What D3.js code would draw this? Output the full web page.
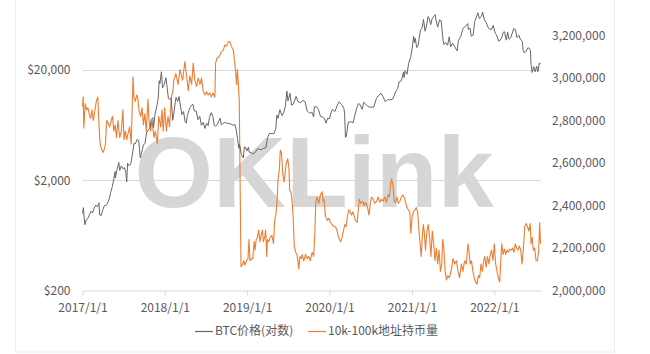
<!DOCTYPE html>
<html>
<head>
<meta charset="utf-8">
<script src="https://cdn.jsdelivr.net/npm/d3@7"></script>
<style>
  body { margin: 0; background: #fff; }
  svg { display: block; }
</style>
</head>
<body>
<div id="chart"></div>
<script>
// BTC price (USD, left log axis)
const btcPrice = [
  ["2017-01-01", 998], ["2017-01-05", 1130], ["2017-01-11", 790], ["2017-01-18", 880], ["2017-01-25", 900],
  ["2017-02-01", 980], ["2017-02-08", 1050], ["2017-02-15", 1010], ["2017-02-22", 1120], ["2017-03-01", 1190],
  ["2017-03-08", 1150], ["2017-03-15", 1250], ["2017-03-18", 970], ["2017-03-25", 960], ["2017-04-01", 1080],
  ["2017-04-08", 1180], ["2017-04-15", 1180], ["2017-04-22", 1240], ["2017-04-29", 1340], ["2017-05-06", 1550],
  ["2017-05-13", 1750], ["2017-05-20", 2050], ["2017-05-25", 2400], ["2017-05-27", 2100], ["2017-06-03", 2500],
  ["2017-06-11", 2900], ["2017-06-15", 2450], ["2017-06-22", 2700], ["2017-06-29", 2550], ["2017-07-06", 2600],
  ["2017-07-12", 2350], ["2017-07-16", 1930], ["2017-07-20", 2850], ["2017-07-27", 2700], ["2017-08-03", 2800],
  ["2017-08-10", 3400], ["2017-08-17", 4300], ["2017-08-24", 4300], ["2017-08-31", 4700], ["2017-09-07", 4600],
  ["2017-09-14", 3200], ["2017-09-21", 3600], ["2017-09-28", 4200], ["2017-10-05", 4300], ["2017-10-12", 5400],
  ["2017-10-19", 5700], ["2017-10-26", 5900], ["2017-11-02", 7100], ["2017-11-09", 7400], ["2017-11-12", 6000],
  ["2017-11-19", 8000], ["2017-11-26", 9300], ["2017-12-03", 11200], ["2017-12-07", 16000], ["2017-12-10", 15000],
  ["2017-12-17", 19300], ["2017-12-22", 13800], ["2017-12-28", 14500], ["2018-01-06", 17000], ["2018-01-12", 13500],
  ["2018-01-17", 11000], ["2018-01-23", 10800], ["2018-01-29", 11200], ["2018-02-05", 7000], ["2018-02-10", 8100],
  ["2018-02-16", 10100], ["2018-02-20", 11300], ["2018-02-27", 10400], ["2018-03-05", 11500], ["2018-03-12", 9200],
  ["2018-03-18", 7900], ["2018-03-25", 8400], ["2018-04-01", 6800], ["2018-04-06", 6600], ["2018-04-12", 7900],
  ["2018-04-20", 8800], ["2018-04-25", 9300], ["2018-05-05", 9800], ["2018-05-12", 8500], ["2018-05-20", 8500],
  ["2018-05-28", 7100], ["2018-06-05", 7600], ["2018-06-12", 6300], ["2018-06-20", 6700], ["2018-06-28", 5900],
  ["2018-07-05", 6600], ["2018-07-12", 6250], ["2018-07-18", 7400], ["2018-07-25", 8200], ["2018-08-02", 7600],
  ["2018-08-08", 6300], ["2018-08-14", 6200], ["2018-08-22", 6400], ["2018-08-30", 7000], ["2018-09-04", 7300],
  ["2018-09-08", 6400], ["2018-09-15", 6500], ["2018-09-22", 6700], ["2018-10-01", 6600], ["2018-10-10", 6550],
  ["2018-10-20", 6500], ["2018-10-30", 6300], ["2018-11-08", 6400], ["2018-11-14", 5700], ["2018-11-19", 4800],
  ["2018-11-25", 3900], ["2018-11-28", 4250], ["2018-12-07", 3400], ["2018-12-15", 3200], ["2018-12-20", 4000],
  ["2018-12-24", 4000], ["2018-12-31", 3700], ["2019-01-07", 4000], ["2019-01-10", 3600], ["2019-01-20", 3550],
  ["2019-01-28", 3450], ["2019-02-08", 3650], ["2019-02-18", 3900], ["2019-02-24", 3800], ["2019-03-05", 3800],
  ["2019-03-15", 3900], ["2019-03-25", 3950], ["2019-04-02", 4900], ["2019-04-10", 5300], ["2019-04-20", 5300],
  ["2019-04-30", 5300], ["2019-05-08", 5900], ["2019-05-13", 7800], ["2019-05-18", 7300], ["2019-05-26", 8700],
  ["2019-06-05", 7700], ["2019-06-12", 8200], ["2019-06-20", 9500], ["2019-06-26", 12900], ["2019-07-01", 10500],
  ["2019-07-10", 12300], ["2019-07-17", 9600], ["2019-07-25", 9800], ["2019-08-06", 11500], ["2019-08-15", 10300],
  ["2019-08-25", 10100], ["2019-09-05", 10600], ["2019-09-15", 10300], ["2019-09-24", 8500], ["2019-10-05", 8100],
  ["2019-10-15", 8300], ["2019-10-23", 7500], ["2019-10-26", 9250], ["2019-11-05", 9300], ["2019-11-14", 8700],
  ["2019-11-22", 7600], ["2019-11-30", 7500], ["2019-12-10", 7300], ["2019-12-17", 6600], ["2019-12-24", 7300],
  ["2020-01-01", 7200], ["2020-01-07", 8100], ["2020-01-14", 8800], ["2020-01-25", 8400], ["2020-02-05", 9600],
  ["2020-02-13", 10300], ["2020-02-24", 9700], ["2020-03-05", 9000], ["2020-03-08", 8100], ["2020-03-12", 4900],
  ["2020-03-16", 5000], ["2020-03-24", 6700], ["2020-04-05", 6800], ["2020-04-15", 6650], ["2020-04-29", 8800],
  ["2020-05-08", 9900], ["2020-05-14", 9800], ["2020-05-25", 8800], ["2020-06-01", 10200], ["2020-06-10", 9800],
  ["2020-06-20", 9300], ["2020-07-01", 9200], ["2020-07-15", 9200], ["2020-07-27", 11000], ["2020-08-05", 11700],
  ["2020-08-17", 12300], ["2020-08-25", 11500], ["2020-09-05", 10300], ["2020-09-15", 10800], ["2020-09-25", 10700],
  ["2020-10-08", 10900], ["2020-10-21", 12800], ["2020-10-30", 13600], ["2020-11-05", 15600], ["2020-11-15", 16000],
  ["2020-11-24", 19100], ["2020-11-27", 17100], ["2020-12-01", 19700], ["2020-12-10", 18300], ["2020-12-17", 23000],
  ["2020-12-27", 26500], ["2021-01-03", 33000], ["2021-01-08", 40500], ["2021-01-11", 35500], ["2021-01-15", 39000],
  ["2021-01-22", 32000], ["2021-01-28", 33500], ["2021-02-08", 46400], ["2021-02-15", 48000], ["2021-02-21", 57500],
  ["2021-02-28", 45000], ["2021-03-07", 51000], ["2021-03-13", 61000], ["2021-03-19", 58000], ["2021-03-25", 51500],
  ["2021-04-01", 59000], ["2021-04-14", 63500], ["2021-04-18", 56000], ["2021-04-25", 49000], ["2021-05-03", 57000],
  ["2021-05-10", 56000], ["2021-05-13", 49500], ["2021-05-19", 37000], ["2021-05-23", 34000], ["2021-05-30", 35600],
  ["2021-06-08", 33500], ["2021-06-15", 40000], ["2021-06-22", 32500], ["2021-06-30", 35000], ["2021-07-08", 32900],
  ["2021-07-20", 29800], ["2021-07-26", 37200], ["2021-08-05", 40000], ["2021-08-14", 47000], ["2021-08-23", 49500],
  ["2021-09-06", 52700], ["2021-09-07", 46800], ["2021-09-15", 48000], ["2021-09-21", 40500], ["2021-09-29", 41500],
  ["2021-10-06", 55000], ["2021-10-15", 61500], ["2021-10-20", 66000], ["2021-10-27", 58500], ["2021-11-05", 61500],
  ["2021-11-10", 67000], ["2021-11-18", 57000], ["2021-11-26", 54000], ["2021-12-04", 49000], ["2021-12-10", 47000],
  ["2021-12-20", 46700], ["2021-12-27", 50700], ["2022-01-05", 43000], ["2022-01-10", 41800], ["2022-01-21", 36500],
  ["2022-01-24", 36700], ["2022-02-01", 38500], ["2022-02-10", 44000], ["2022-02-15", 44500], ["2022-02-23", 37300],
  ["2022-03-01", 44300], ["2022-03-07", 38000], ["2022-03-15", 39300], ["2022-03-28", 47400], ["2022-04-05", 46500],
  ["2022-04-11", 39500], ["2022-04-20", 41300], ["2022-04-26", 38100], ["2022-05-05", 36500], ["2022-05-09", 30100],
  ["2022-05-12", 28900], ["2022-05-20", 29200], ["2022-05-30", 31800], ["2022-06-06", 31400], ["2022-06-10", 30100],
  ["2022-06-13", 22500], ["2022-06-18", 19000], ["2022-06-25", 21500], ["2022-07-01", 19300], ["2022-07-08", 21600],
  ["2022-07-13", 19300], ["2022-07-20", 23200], ["2022-07-25", 22600]
];

// BTC held by 10k-100k addresses (right axis)
const holdings = [
  ["2017-01-01", 2865000], ["2017-01-04", 2912000], ["2017-01-07", 2765000], ["2017-01-13", 2880000], ["2017-01-19", 2850000],
  ["2017-01-25", 2860000], ["2017-01-31", 2830000], ["2017-02-06", 2810000], ["2017-02-12", 2850000], ["2017-02-18", 2800000],
  ["2017-02-24", 2840000], ["2017-03-03", 2890000], ["2017-03-10", 2910000], ["2017-03-13", 2830000], ["2017-03-18", 2720000],
  ["2017-03-22", 2680000], ["2017-03-28", 2660000], ["2017-04-03", 2650000], ["2017-04-09", 2670000], ["2017-04-13", 2690000],
  ["2017-04-18", 2800000], ["2017-04-24", 2790000], ["2017-05-01", 2770000], ["2017-05-09", 2800000], ["2017-05-14", 2820000],
  ["2017-05-20", 2750000], ["2017-05-26", 2780000], ["2017-06-01", 2720000], ["2017-06-07", 2800000], ["2017-06-15", 2720000],
  ["2017-06-22", 2750000], ["2017-06-29", 2850000], ["2017-07-04", 2710000], ["2017-07-10", 2750000], ["2017-07-16", 2710000],
  ["2017-07-22", 2740000], ["2017-07-29", 2770000], ["2017-08-05", 2690000], ["2017-08-13", 3006000], ["2017-08-17", 2910000],
  ["2017-08-23", 2890000], ["2017-08-29", 2920000], ["2017-09-04", 2900000], ["2017-09-08", 2850000], ["2017-09-16", 2820000],
  ["2017-09-22", 2860000], ["2017-09-28", 2780000], ["2017-10-04", 2830000], ["2017-10-11", 2750000], ["2017-10-18", 2900000],
  ["2017-10-23", 2800000], ["2017-10-30", 2750000], ["2017-11-05", 2800000], ["2017-11-14", 2720000], ["2017-11-20", 2750000],
  ["2017-11-29", 2690000], ["2017-12-05", 2820000], ["2017-12-14", 2770000], ["2017-12-19", 2850000], ["2017-12-25", 2750000],
  ["2017-12-31", 2860000], ["2018-01-08", 2750000], ["2018-01-15", 2820000], ["2018-01-22", 2770000], ["2018-01-30", 2910000],
  ["2018-02-06", 2940000], ["2018-02-10", 2990000], ["2018-02-19", 3020000], ["2018-03-01", 2970000], ["2018-03-09", 3040000],
  ["2018-03-21", 2990000], ["2018-03-31", 3077000], ["2018-04-08", 3006000], ["2018-04-15", 2940000], ["2018-04-22", 3010000],
  ["2018-04-30", 2970000], ["2018-05-07", 3070000], ["2018-05-14", 2990000], ["2018-05-22", 2960000], ["2018-05-29", 3000000],
  ["2018-06-06", 2970000], ["2018-06-13", 3000000], ["2018-06-20", 2940000], ["2018-06-28", 2920000], ["2018-07-05", 2935000],
  ["2018-07-12", 2920000], ["2018-07-19", 2930000], ["2018-07-27", 2910000], ["2018-08-03", 2930000], ["2018-08-11", 2910000],
  ["2018-08-14", 3070000], ["2018-08-21", 3094000], ["2018-08-30", 3100000], ["2018-09-09", 3124000], ["2018-09-17", 3130000],
  ["2018-09-24", 3155000], ["2018-10-01", 3150000], ["2018-10-09", 3170000], ["2018-10-16", 3171000], ["2018-10-23", 3150000],
  ["2018-11-01", 3130000], ["2018-11-08", 3060000], ["2018-11-12", 3020000], ["2018-11-15", 2970000], ["2018-11-19", 3040000],
  ["2018-11-24", 2950000], ["2018-11-27", 2900000], ["2018-11-30", 2600000], ["2018-12-03", 2280000], ["2018-12-05", 2112000],
  ["2018-12-11", 2120000], ["2018-12-17", 2140000], ["2018-12-23", 2120000], ["2018-12-29", 2140000], ["2019-01-05", 2150000],
  ["2019-01-09", 2240000], ["2019-01-14", 2140000], ["2019-01-20", 2150000], ["2019-01-26", 2150000], ["2019-02-01", 2230000],
  ["2019-02-05", 2190000], ["2019-02-10", 2240000], ["2019-02-16", 2250000], ["2019-02-21", 2285000], ["2019-02-27", 2230000],
  ["2019-03-04", 2260000], ["2019-03-10", 2285000], ["2019-03-14", 2230000], ["2019-03-20", 2250000], ["2019-03-24", 2285000],
  ["2019-03-29", 2160000], ["2019-04-01", 2240000], ["2019-04-06", 2230000], ["2019-04-14", 2250000], ["2019-04-21", 2260000],
  ["2019-04-28", 2220000], ["2019-05-03", 2330000], ["2019-05-09", 2360000], ["2019-05-13", 2410000], ["2019-05-18", 2520000],
  ["2019-05-24", 2570000], ["2019-05-28", 2660000], ["2019-06-02", 2650000], ["2019-06-08", 2550000], ["2019-06-14", 2510000],
  ["2019-06-20", 2570000], ["2019-06-24", 2600000], ["2019-06-30", 2620000], ["2019-07-05", 2580000], ["2019-07-09", 2470000],
  ["2019-07-15", 2460000], ["2019-07-20", 2410000], ["2019-07-24", 2350000], ["2019-07-29", 2206000], ["2019-08-04", 2180000],
  ["2019-08-10", 2170000], ["2019-08-14", 2140000], ["2019-08-18", 2103000], ["2019-08-23", 2160000], ["2019-08-29", 2150000],
  ["2019-09-02", 2170000], ["2019-09-09", 2140000], ["2019-09-17", 2170000], ["2019-09-24", 2150000], ["2019-10-01", 2160000],
  ["2019-10-08", 2140000], ["2019-10-16", 2180000], ["2019-10-23", 2160000], ["2019-10-28", 2260000], ["2019-11-01", 2410000],
  ["2019-11-07", 2440000], ["2019-11-15", 2410000], ["2019-11-22", 2450000], ["2019-11-30", 2465000], ["2019-12-04", 2420000],
  ["2019-12-08", 2430000], ["2019-12-14", 2350000], ["2019-12-22", 2330000], ["2019-12-29", 2340000], ["2020-01-05", 2320000],
  ["2020-01-13", 2310000], ["2020-01-20", 2300000], ["2020-01-28", 2300000], ["2020-02-04", 2280000], ["2020-02-09", 2255000],
  ["2020-02-14", 2240000], ["2020-02-20", 2230000], ["2020-02-26", 2250000], ["2020-03-03", 2280000], ["2020-03-09", 2310000],
  ["2020-03-15", 2300000], ["2020-03-21", 2350000], ["2020-03-27", 2380000], ["2020-04-02", 2370000], ["2020-04-08", 2355000],
  ["2020-04-14", 2370000], ["2020-04-20", 2350000], ["2020-04-25", 2330000], ["2020-05-03", 2320000], ["2020-05-12", 2430000],
  ["2020-05-19", 2410000], ["2020-05-27", 2420000], ["2020-06-03", 2400000], ["2020-06-10", 2415000], ["2020-06-18", 2390000],
  ["2020-06-24", 2355000], ["2020-06-30", 2410000], ["2020-07-05", 2440000], ["2020-07-13", 2430000], ["2020-07-20", 2410000],
  ["2020-07-28", 2420000], ["2020-08-04", 2440000], ["2020-08-11", 2415000], ["2020-08-19", 2430000], ["2020-08-26", 2420000],
  ["2020-09-02", 2440000], ["2020-09-10", 2415000], ["2020-09-17", 2450000], ["2020-09-23", 2440000], ["2020-09-29", 2510000],
  ["2020-10-03", 2525000], ["2020-10-09", 2490000], ["2020-10-14", 2420000], ["2020-10-20", 2415000], ["2020-10-26", 2440000],
  ["2020-11-01", 2410000], ["2020-11-08", 2420000], ["2020-11-15", 2440000], ["2020-11-23", 2450000], ["2020-11-30", 2430000],
  ["2020-12-07", 2400000], ["2020-12-15", 2380000], ["2020-12-22", 2370000], ["2020-12-27", 2270000], ["2021-01-02", 2350000],
  ["2021-01-08", 2370000], ["2021-01-14", 2380000], ["2021-01-20", 2390000], ["2021-01-26", 2370000], ["2021-02-01", 2280000],
  ["2021-02-06", 2220000], ["2021-02-11", 2160000], ["2021-02-15", 2240000], ["2021-02-20", 2310000], ["2021-02-24", 2280000],
  ["2021-03-02", 2190000], ["2021-03-08", 2280000], ["2021-03-14", 2310000], ["2021-03-20", 2250000], ["2021-03-26", 2160000],
  ["2021-04-01", 2280000], ["2021-04-07", 2220000], ["2021-04-13", 2140000], ["2021-04-19", 2200000], ["2021-04-25", 2125000],
  ["2021-05-01", 2190000], ["2021-05-07", 2090000], ["2021-05-13", 2125000], ["2021-05-17", 2240000], ["2021-05-22", 2200000],
  ["2021-05-28", 2090000], ["2021-06-03", 2050000], ["2021-06-09", 2070000], ["2021-06-15", 2060000], ["2021-06-18", 2070000],
  ["2021-06-25", 2100000], ["2021-07-02", 2150000], ["2021-07-09", 2125000], ["2021-07-17", 2140000], ["2021-07-24", 2090000],
  ["2021-07-31", 2060000], ["2021-08-08", 2125000], ["2021-08-15", 2090000], ["2021-08-22", 2140000], ["2021-08-30", 2125000],
  ["2021-09-06", 2220000], ["2021-09-10", 2190000], ["2021-09-16", 2125000], ["2021-09-22", 2140000], ["2021-09-28", 2090000],
  ["2021-10-04", 2060000], ["2021-10-10", 2040000], ["2021-10-16", 2030000], ["2021-10-22", 2070000], ["2021-10-28", 2060000],
  ["2021-11-03", 2125000], ["2021-11-09", 2090000], ["2021-11-15", 2140000], ["2021-11-20", 2160000], ["2021-11-26", 2110000],
  ["2021-12-02", 2160000], ["2021-12-08", 2125000], ["2021-12-14", 2170000], ["2021-12-20", 2190000], ["2021-12-26", 2140000],
  ["2022-01-01", 2220000], ["2022-01-07", 2125000], ["2022-01-13", 2090000], ["2022-01-19", 2060000], ["2022-01-25", 2040000],
  ["2022-01-29", 2125000], ["2022-02-03", 2220000], ["2022-02-09", 2170000], ["2022-02-15", 2195000], ["2022-02-21", 2170000],
  ["2022-02-27", 2190000], ["2022-03-05", 2180000], ["2022-03-11", 2195000], ["2022-03-17", 2190000], ["2022-03-23", 2200000],
  ["2022-03-29", 2180000], ["2022-04-04", 2220000], ["2022-04-10", 2200000], ["2022-04-16", 2190000], ["2022-04-22", 2210000],
  ["2022-04-28", 2190000], ["2022-05-04", 2125000], ["2022-05-10", 2200000], ["2022-05-16", 2300000], ["2022-05-22", 2315000],
  ["2022-05-28", 2300000], ["2022-06-03", 2280000], ["2022-06-09", 2315000], ["2022-06-13", 2220000], ["2022-06-18", 2250000],
  ["2022-06-23", 2190000], ["2022-06-29", 2200000], ["2022-07-05", 2140000], ["2022-07-11", 2140000], ["2022-07-17", 2190000],
  ["2022-07-21", 2320000], ["2022-07-25", 2220000]
];

const priceTicks = [200, 2000, 20000];
const holdingTicks = [2000000, 2200000, 2400000, 2600000, 2800000, 3000000, 3200000];
const yearTicks = ["2017-01-01", "2018-01-01", "2019-01-01", "2020-01-01", "2021-01-01", "2022-01-01"];
const seriesNames = ["BTC价格(对数)", "10k-100k地址持币量"];

const width = 650, height = 354;
const font = "'Noto Sans CJK SC', 'Noto Sans', sans-serif";
const textColor = "#595959";
const btcColor = "#666666";
const holdColor = "#ED7D31";

const svg = d3.select("#chart").append("svg")
  .attr("width", width)
  .attr("height", height);

// faint card border
svg.append("rect")
  .attr("x", 15.5).attr("y", -5)
  .attr("width", 599).attr("height", 357)
  .attr("fill", "none")
  .attr("stroke", "#efefef");

const parse = d3.timeParse("%Y-%m-%d");

const x = d3.scaleTime()
  .domain([parse("2017-01-01"), parse("2022-07-27")])
  .range([82.5, 541]);

const yLeft = d3.scaleLog()
  .domain([200, 20000])
  .range([290.5, 70]);

const yRight = d3.scaleLinear()
  .domain([2000000, 3000000])
  .range([290.5, 78]);

// gridlines
svg.append("g")
  .selectAll("line")
  .data(priceTicks.slice(1))
  .join("line")
  .attr("x1", x.range()[0]).attr("x2", x.range()[1])
  .attr("y1", d => Math.round(yLeft(d)) + 0.5)
  .attr("y2", d => Math.round(yLeft(d)) + 0.5)
  .attr("stroke", "#d9d9d9");

// watermark
svg.append("text")
  .attr("x", 314).attr("y", 207)
  .attr("text-anchor", "middle")
  .attr("font-family", "'Liberation Sans', Arial, sans-serif")
  .attr("font-weight", "bold")
  .attr("font-size", 101)
  .attr("fill", "#d6d6d6")
  .text("OKLink");

// x axis
const xAxis = svg.append("g")
  .attr("transform", `translate(0, ${290.5})`)
  .call(d3.axisBottom(x)
    .tickValues(yearTicks.map(parse))
    .tickFormat(d3.timeFormat("%Y/%-m/%-d"))
    .tickSize(5)
    .tickSizeOuter(0)
    .tickPadding(8));
xAxis.select(".domain").attr("stroke", "#d9d9d9");
xAxis.selectAll(".tick line").attr("stroke", "#d9d9d9");
xAxis.selectAll("text")
  .attr("fill", textColor)
  .style("font-family", font)
  .style("font-size", "12px");

// left axis
const leftAxis = svg.append("g")
  .attr("transform", `translate(${x.range()[0]}, 0)`)
  .call(d3.axisLeft(yLeft)
    .tickValues(priceTicks)
    .tickFormat(d => "$" + d3.format(",")(d))
    .tickSize(0)
    .tickPadding(12));
leftAxis.select(".domain").remove();
leftAxis.selectAll("text")
  .attr("fill", textColor)
  .style("font-family", font)
  .style("font-size", "12px");

// right axis
const rightAxis = svg.append("g")
  .attr("transform", `translate(${x.range()[1]}, 0)`)
  .call(d3.axisRight(yRight)
    .tickValues(holdingTicks)
    .tickFormat(d3.format(","))
    .tickSize(0)
    .tickPadding(11));
rightAxis.select(".domain").remove();
rightAxis.selectAll("text")
  .attr("fill", textColor)
  .style("font-family", font)
  .style("font-size", "12px");

// lines
const btcLine = d3.line()
  .x(d => x(parse(d[0])))
  .y(d => yLeft(d[1]));

const holdLine = d3.line()
  .x(d => x(parse(d[0])))
  .y(d => yRight(d[1]));

svg.append("path")
  .datum(holdings)
  .attr("d", holdLine)
  .attr("fill", "none")
  .attr("stroke", holdColor)
  .attr("stroke-width", 1.1)
  .attr("stroke-linejoin", "round");

svg.append("path")
  .datum(btcPrice)
  .attr("d", btcLine)
  .attr("fill", "none")
  .attr("stroke", btcColor)
  .attr("stroke-width", 1)
  .attr("stroke-linejoin", "round");

// legend
const legend = svg.append("g").attr("transform", "translate(0, 331)");
const legendItems = [
  { name: seriesNames[0], color: btcColor, x: 195 },
  { name: seriesNames[1], color: holdColor, x: 308 }
];
legendItems.forEach(item => {
  legend.append("line")
    .attr("x1", item.x).attr("x2", item.x + 18)
    .attr("y1", 0.5).attr("y2", 0.5)
    .attr("stroke", item.color)
    .attr("stroke-width", 1.2);
  legend.append("text")
    .attr("x", item.x + 20)
    .attr("y", 0)
    .attr("dy", "0.35em")
    .attr("fill", textColor)
    .style("font-family", font)
    .style("font-size", "12px")
    .text(item.name);
});
</script>
</body>
</html>
